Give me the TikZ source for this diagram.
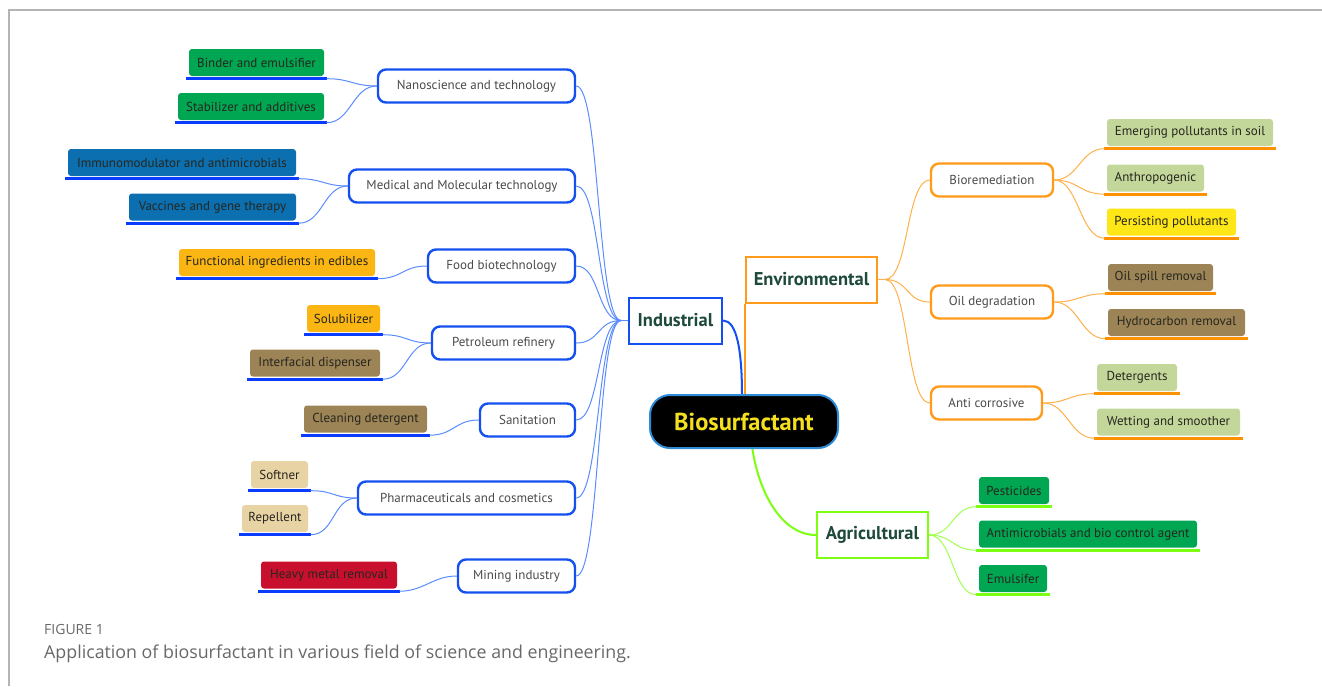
\documentclass[tikz,border=0pt]{standalone}
\usepackage{fontspec}
\setmainfont{PT Sans}
\newfontfamily\capfont{Open Sans}
\usetikzlibrary{calc}

% palette
\definecolor{framec}{HTML}{B4B4B4}
\definecolor{indb}{HTML}{1450F0}
\definecolor{indline}{HTML}{5A8CFF}
\definecolor{indul}{HTML}{0A3CFF}
\definecolor{envo}{HTML}{FF9A1A}
\definecolor{envline}{HTML}{FFB04A}
\definecolor{envul}{HTML}{FF9000}
\definecolor{agrg}{HTML}{7CFF10}
\definecolor{agrline}{HTML}{A0FF50}
\definecolor{labtxt}{HTML}{1E4A3A}
\definecolor{subtxt}{HTML}{4A4A4A}
\definecolor{leaftxt}{HTML}{26261E}
\definecolor{fgreen}{HTML}{00A651}
\definecolor{fblue}{HTML}{0B6FB0}
\definecolor{famber}{HTML}{FBB614}
\definecolor{fbrown}{HTML}{9C8456}
\definecolor{ftan}{HTML}{E8D3A4}
\definecolor{fred}{HTML}{C8102E}
\definecolor{folive}{HTML}{C4D79B}
\definecolor{fyellow}{HTML}{FFE617}
\definecolor{biob}{HTML}{2E8BD8}
\definecolor{bioy}{HTML}{F5E020}
\definecolor{capgray}{HTML}{686868}

% leaf macro: name, x, y, width, fill, text
\newcommand\leafnode[6]{\node[leaf,fill=#5,minimum width=#4pt] (#1) at (#2,#3) {#6};}
% underline under a leaf: name, colour
\newcommand\leafline[2]{\draw[line width=3pt,#2] ([xshift=-2.5pt,yshift=-2.5pt]#1.south west) -- ([xshift=2.5pt,yshift=-2.5pt]#1.south east);}

\begin{document}
\begin{tikzpicture}[x=1pt,y=-1pt,
  txt/.style={font=\fontsize{13}{15}\selectfont},
  leaf/.style={txt,text=leaftxt,rounded corners=3pt,minimum height=27pt,inner sep=0pt},
  subbox/.style={txt,text=subtxt,draw,fill=white,line width=2.4pt,rounded corners=8pt,minimum height=33pt,inner sep=0pt},
  mainbox/.style={font=\bfseries\fontsize{18.5}{20}\selectfont,text=labtxt,draw,fill=white,line width=2pt,minimum height=46pt,inner sep=0pt},
  thinc/.style={line width=1pt},
  sc/.style={to path={.. controls +(#1,0) and +(-#1,0) .. (\tikztotarget)}},
]
\useasboundingbox (0,0) rectangle (1322,686);

% frame
\draw[framec,line width=1.5pt] (9,686) -- (9,10) -- (1322,10);

% ---------- central node and its three main branches ----------
\node[mainbox,draw=indb,minimum width=93pt] (ind) at (675.5,320.5) {Industrial};
\node[mainbox,draw=envo,minimum width=131pt] (env) at (811.5,279.5) {Environmental};
\node[mainbox,draw=agrg,minimum width=111pt] (agr) at (872.5,535) {Agricultural};

\coordinate (bioN) at (742,396);
\coordinate (bioS) at (752,446);
\draw[indb,line width=2pt] (ind.east) .. controls +(14,0) and +(0,-45) .. (bioN);
\draw[envo,line width=2.4pt] (env.south west) -- (env.south west |- bioN);
\draw[agrg,line width=2pt] (bioS) .. controls +(6,45) and +(-35,0) .. (agr.west);

\node[draw=biob,fill=black,line width=2pt,rounded corners=20pt,minimum width=188pt,minimum height=53pt,inner sep=0pt,
      text=bioy,font=\bfseries\fontsize{24.5}{26}\selectfont] (bio) at (744,421.5) {Biosurfactant};

% ---------- Industrial ----------
\coordinate (ihub) at (621,320.5);
\draw[indline,thinc] (ind.west) -- (ihub);

\node[subbox,draw=indb,minimum width=197pt] (nano)   at (476.5,86)  {Nanoscience and technology};
\node[subbox,draw=indb,minimum width=226pt] (med)    at (462,186)   {Medical and Molecular technology};
\node[subbox,draw=indb,minimum width=147pt] (food)   at (501.5,266) {Food biotechnology};
\node[subbox,draw=indb,minimum width=143pt] (petro)  at (503.5,343) {Petroleum refinery};
\node[subbox,draw=indb,minimum width=95pt]  (sani)   at (527.5,420) {Sanitation};
\node[subbox,draw=indb,minimum width=217pt] (pharma) at (466.5,498) {Pharmaceuticals and cosmetics};
\node[subbox,draw=indb,minimum width=117pt] (mining) at (516.5,576) {Mining industry};

\foreach \s in {nano,med,food,petro,sani,pharma,mining}
  {\draw[indline,thinc] (ihub) to[sc=-24] (\s.east);}

\leafnode{b1}{256.5}{62.5}{135}{fgreen}{Binder and emulsifier}
\leafnode{b2}{251}{106.5}{146}{fgreen}{Stabilizer and additives}
\leafnode{b3}{182}{162.5}{228}{fblue}{Immunomodulator and antimicrobials}
\leafnode{b4}{212.5}{207}{167}{fblue}{Vaccines and gene therapy}
\leafnode{b5}{277}{262.5}{196}{famber}{Functional ingredients in edibles}
\leafnode{b6}{343.5}{318.5}{73}{famber}{Solubilizer}
\leafnode{b7}{315}{363}{130}{fbrown}{Interfacial dispenser}
\leafnode{b8}{365.5}{419}{123}{fbrown}{Cleaning detergent}
\leafnode{b9}{279.5}{474.5}{57}{ftan}{Softner}
\leafnode{b10}{275}{518.5}{66}{ftan}{Repellent}
\leafnode{b11}{329}{575}{136}{fred}{Heavy metal removal}

\foreach \l in {b1,b2,b3,b4,b5,b6,b7,b8,b9,b10,b11}
  {\leafline{\l}{indul}}

\foreach \p/\l in {nano/b1,nano/b2,med/b3,med/b4,food/b5,petro/b6,petro/b7,sani/b8,pharma/b9,pharma/b10,mining/b11}
  {\draw[indline,thinc] (\p.west) to[sc=-24] ([xshift=2.5pt,yshift=-2.5pt]\l.south east);}

% ---------- Environmental ----------
\coordinate (ehub) at (885,279.5);
\draw[envline,thinc] (env.east) -- (ehub);

\node[subbox,draw=envo,minimum width=122pt] (biorem) at (992,180)   {Bioremediation};
\node[subbox,draw=envo,minimum width=122pt] (oil)    at (992,302)   {Oil degradation};
\node[subbox,draw=envo,minimum width=111pt] (anti)   at (986.5,403) {Anti corrosive};

\foreach \s in {biorem,oil,anti}
  {\draw[envline,thinc] (ehub) to[sc=24] (\s.west);}

\leafnode{r1}{1190}{132.5}{166}{folive}{Emerging pollutants in soil}
\leafnode{r2}{1155.5}{178}{97}{folive}{Anthropogenic}
\leafnode{r3}{1171.5}{222}{129}{fyellow}{Persisting pollutants}
\leafnode{r4}{1160.5}{277.5}{105}{fbrown}{Oil spill removal}
\leafnode{r5}{1176.5}{322.5}{137}{fbrown}{Hydrocarbon removal}
\leafnode{r6}{1137}{377.5}{80}{folive}{Detergents}
\leafnode{r7}{1168.5}{422}{143}{folive}{Wetting and smoother}

\foreach \l in {r1,r2,r3,r4,r5,r6,r7}
  {\leafline{\l}{envul}}

\foreach \p/\l in {biorem/r1,biorem/r2,biorem/r3,oil/r4,oil/r5,anti/r6,anti/r7}
  {\draw[envline,thinc] (\p.east) to[sc=24] ([xshift=-2.5pt,yshift=-2.5pt]\l.south west);}

% ---------- Agricultural ----------
\leafnode{a1}{1014}{490.5}{70}{fgreen}{Pesticides}
\leafnode{a2}{1088}{534}{218}{fgreen}{Antimicrobials and bio control agent}
\leafnode{a3}{1013}{578.5}{68}{fgreen}{Emulsifer}

\foreach \l in {a1,a2,a3}
  {\leafline{\l}{agrg}}

\foreach \l in {a1,a2,a3}
  {\draw[agrline,thinc] (agr.east) to[sc=24] ([xshift=-2.5pt,yshift=-2.5pt]\l.south west);}

% ---------- caption ----------
\node[anchor=base west,inner sep=0pt,text=capgray,font=\capfont\fontsize{14}{16}\selectfont] (fig) at (44,634) {FIGURE 1};
\node[anchor=base west,inner sep=0pt,text=capgray,font=\capfont\fontsize{17.8}{20}\selectfont] (cap) at (44,658)
  {Application of biosurfactant in various field of science and engineering.};
\end{tikzpicture}
\end{document}
